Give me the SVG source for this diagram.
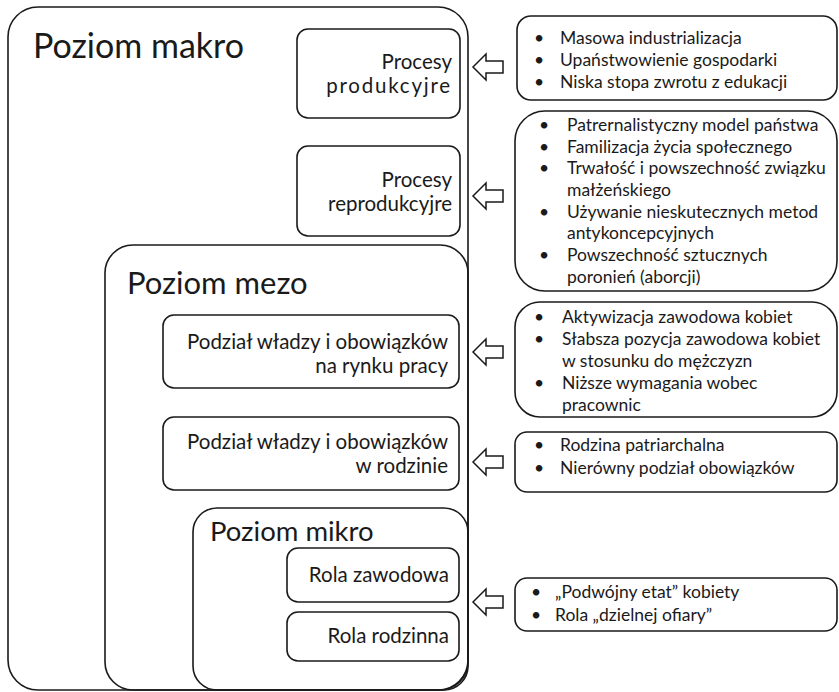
<svg xmlns="http://www.w3.org/2000/svg" width="839" height="692" viewBox="0 0 839 692">
<style>
.box{fill:none;stroke:#1a1a1a;stroke-width:1.6}
.arrow{fill:#fff;stroke:#1a1a1a;stroke-width:1.5;stroke-linejoin:miter}
text{font-family:Lato,"Noto Sans","Liberation Sans",sans-serif;fill:#1a1a1a}
.title1{font-size:34px}
.title2{font-size:31px}
.title3{font-size:27.5px}
.lbl{font-size:20.5px;text-anchor:end}
.item{font-size:17.5px}
</style>
<rect width="839" height="692" fill="#fff"/>
<g id="makro">
<rect class="box" x="8" y="7" width="460" height="683" rx="30"/>
<text class="title1" x="33" y="58">Poziom makro</text>
</g>
<g id="procesy-produkcyjne">
<rect class="box" x="297" y="29" width="163" height="89" rx="11"/>
<text class="lbl" x="452" y="69">Procesy</text>
<text class="lbl" x="452" y="93" letter-spacing="1.8">produkcyjre</text>
</g>
<g id="procesy-reprodukcyjne">
<rect class="box" x="297" y="146" width="163" height="90" rx="11"/>
<text class="lbl" x="452" y="187">Procesy</text>
<text class="lbl" x="452" y="211">reprodukcyjre</text>
</g>
<g id="mezo">
<rect class="box" x="105" y="245" width="363" height="445" rx="28"/>
<text class="title2" x="127" y="294">Poziom mezo</text>
</g>
<g id="podzial-rynek">
<rect class="box" x="163" y="315" width="296" height="73" rx="11"/>
<text class="lbl" x="448" y="349">Podział władzy i obowiązków</text>
<text class="lbl" x="448" y="373">na rynku pracy</text>
</g>
<g id="podzial-rodzina">
<rect class="box" x="163" y="417" width="296" height="73" rx="11"/>
<text class="lbl" x="448" y="449">Podział władzy i obowiązków</text>
<text class="lbl" x="448" y="473">w rodzinie</text>
</g>
<g id="mikro">
<rect class="box" x="193" y="508" width="275" height="182" rx="24"/>
<text class="title3" x="210" y="541">Poziom mikro</text>
</g>
<g id="rola-zawodowa">
<rect class="box" x="287" y="548" width="172" height="54" rx="11"/>
<text class="lbl" x="449" y="582">Rola zawodowa</text>
</g>
<g id="rola-rodzinna">
<rect class="box" x="287" y="612" width="172" height="49" rx="11"/>
<text class="lbl" x="449" y="643">Rola rodzinna</text>
</g>
<g id="czynniki-produkcyjne">
<rect class="box" x="517" y="16" width="320" height="84" rx="14"/>
<text class="item" x="534" y="44">•</text><text class="item" x="560" y="44">Masowa industrializacja</text>
<text class="item" x="534" y="66">•</text><text class="item" x="560" y="66">Upaństwowienie gospodarki</text>
<text class="item" x="534" y="88">•</text><text class="item" x="560" y="88">Niska stopa zwrotu z edukacji</text>
</g>
<g id="czynniki-reprodukcyjne">
<rect class="box" x="515" y="111" width="322" height="180" rx="30"/>
<text class="item" x="539" y="131">•</text><text class="item" x="567" y="131">Patrernalistyczny model państwa</text>
<text class="item" x="539" y="153">•</text><text class="item" x="567" y="153">Familizacja życia społecznego</text>
<text class="item" x="539" y="174">•</text><text class="item" x="567" y="174">Trwałość i powszechność związku</text>
<text class="item" x="567" y="196">małżeńskiego</text>
<text class="item" x="539" y="218">•</text><text class="item" x="567" y="218">Używanie nieskutecznych metod</text>
<text class="item" x="567" y="239">antykoncepcyjnych</text>
<text class="item" x="539" y="261">•</text><text class="item" x="567" y="261">Powszechność sztucznych</text>
<text class="item" x="567" y="283">poronień (aborcji)</text>
</g>
<g id="czynniki-rynek">
<rect class="box" x="515" y="302" width="322" height="115" rx="25"/>
<text class="item" x="534" y="323">•</text><text class="item" x="562" y="323">Aktywizacja zawodowa kobiet</text>
<text class="item" x="534" y="345">•</text><text class="item" x="562" y="345">Słabsza pozycja zawodowa kobiet</text>
<text class="item" x="562" y="367">w stosunku do mężczyzn</text>
<text class="item" x="534" y="389">•</text><text class="item" x="562" y="389">Niższe wymagania wobec</text>
<text class="item" x="562" y="411">pracownic</text>
</g>
<g id="czynniki-rodzina">
<rect class="box" x="515" y="432" width="322" height="60" rx="12"/>
<text class="item" x="534" y="451">•</text><text class="item" x="560" y="451">Rodzina patriarchalna</text>
<text class="item" x="534" y="474">•</text><text class="item" x="560" y="474">Nierówny podział obowiązków</text>
</g>
<g id="czynniki-mikro">
<rect class="box" x="515" y="578" width="322" height="53" rx="12"/>
<text class="item" x="531" y="598">•</text><text class="item" x="555" y="598">„Podwójny etat” kobiety</text>
<text class="item" x="531" y="621">•</text><text class="item" x="555" y="621">Rola „dzielnej ofiary”</text>
</g>
<g id="connectors">
<polygon class="arrow" points="473,67 486,54 486,61 503,61 503,73 486,73 486,80"/>
<polygon class="arrow" points="473,196 486,183 486,190 503,190 503,202 486,202 486,209"/>
<polygon class="arrow" points="473,352 486,339 486,346 503,346 503,358 486,358 486,365"/>
<polygon class="arrow" points="473,462 486,449 486,456 503,456 503,468 486,468 486,475"/>
<polygon class="arrow" points="473,602 486,589 486,596 503,596 503,608 486,608 486,615"/>
</g>
</svg>
